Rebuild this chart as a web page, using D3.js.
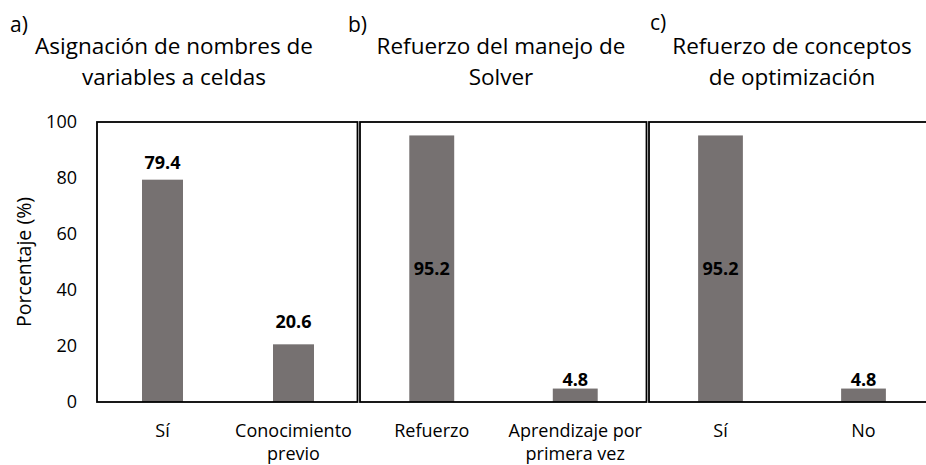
<!DOCTYPE html>
<html>
<head>
<meta charset="utf-8">
<script src="https://cdn.jsdelivr.net/npm/d3@7"></script>
<style>
  body { margin: 0; background: #fff; }
  svg text { font-family: "Open Sans", "Noto Sans", sans-serif; fill: #000; }
</style>
</head>
<body>
<div id="chart"></div>
<script>
// Data
const panelLetters = ['a)', 'b)', 'c)'];
const panelTitles = [
    ['Asignación de nombres de', 'variables a celdas'],
    ['Refuerzo del manejo de', 'Solver'],
    ['Refuerzo de conceptos', 'de optimización']
];
const categories = [
    [['Sí'], ['Conocimiento', 'previo']],
    [['Refuerzo'], ['Aprendizaje por', 'primera vez']],
    [['Sí'], ['No']]
];
const values = [
    [79.4, 20.6],
    [95.2, 4.8],
    [95.2, 4.8]
];
const yTicks = [0, 20, 40, 60, 80, 100];

// Layout
const width = 926, height = 465;
const plotTop = 122, plotBottom = 402;
const bandX = [[97, 359], [360, 647], [649, 935]];   // category band ranges
const boxX = [[97, 357.5], [360, 646.5], [649, 940]]; // drawn frames (c runs off the page)
const titleCx = [174, 501, 792];
const letterPos = [[10, 32], [348, 32], [650, 30]];
// label placement: 'mid' = inside bar centre, number = gap above bar top
const labelGap = [[11, 16], ['mid', 3], ['mid', 3]];
const barColor = '#767171';

const svg = d3.select('#chart')
    .append('svg')
    .attr('width', width)
    .attr('height', height);

const y = d3.scaleLinear().domain([0, 100]).range([plotBottom, plotTop]);

// Y axis tick labels
svg.append('g')
    .selectAll('text')
    .data(yTicks)
    .enter()
    .append('text')
    .attr('x', 77)
    .attr('y', d => y(d))
    .attr('dy', '0.36em')
    .attr('text-anchor', 'end')
    .style('font-size', '18px')
    .text(d => d);

// Y axis title
svg.append('text')
    .attr('transform', `translate(31, ${(plotTop + plotBottom) / 2}) rotate(-90)`)
    .attr('text-anchor', 'middle')
    .style('font-size', '19.5px')
    .text('Porcentaje (%)');

values.forEach((vals, i) => {
    const x = d3.scaleBand()
        .domain(d3.range(vals.length))
        .range(bandX[i])
        .paddingInner(0.687)
        .paddingOuter(0.3435);

    const g = svg.append('g');

    // Bars
    g.selectAll('rect.bar')
        .data(vals)
        .enter()
        .append('rect')
        .attr('class', 'bar')
        .attr('x', (d, j) => x(j))
        .attr('y', d => y(d))
        .attr('width', x.bandwidth())
        .attr('height', d => y(0) - y(d))
        .attr('fill', barColor);

    // Value labels
    g.selectAll('text.val')
        .data(vals)
        .enter()
        .append('text')
        .attr('class', 'val')
        .attr('x', (d, j) => x(j) + x.bandwidth() / 2)
        .attr('y', (d, j) => labelGap[i][j] === 'mid'
            ? (y(d) + y(0)) / 2 + 6.5
            : y(d) - labelGap[i][j])
        .attr('text-anchor', 'middle')
        .style('font-size', '18px')
        .style('font-weight', 'bold')
        .text(d => d.toFixed(1));

    // Category labels
    const cats = g.selectAll('text.cat')
        .data(categories[i])
        .enter()
        .append('text')
        .attr('class', 'cat')
        .attr('text-anchor', 'middle')
        .style('font-size', '18px');
    cats.each(function (lines, j) {
        const t = d3.select(this);
        lines.forEach((line, k) => {
            t.append('tspan')
                .attr('x', x(j) + x.bandwidth() / 2)
                .attr('y', 437 + k * 23)
                .text(line);
        });
    });

    // Plot frame
    g.append('rect')
        .attr('x', boxX[i][0])
        .attr('y', plotTop)
        .attr('width', boxX[i][1] - boxX[i][0])
        .attr('height', plotBottom - plotTop)
        .attr('fill', 'none')
        .attr('stroke', '#000')
        .attr('stroke-width', 1.8);

    // Panel letter
    svg.append('text')
        .attr('x', letterPos[i][0])
        .attr('y', letterPos[i][1])
        .style('font-size', '21px')
        .text(panelLetters[i]);

    // Title (two lines)
    panelTitles[i].forEach((line, k) => {
        svg.append('text')
            .attr('x', titleCx[i])
            .attr('y', 54 + k * 31)
            .attr('text-anchor', 'middle')
            .style('font-size', '22.5px')
            .text(line);
    });
});
</script>
</body>
</html>
